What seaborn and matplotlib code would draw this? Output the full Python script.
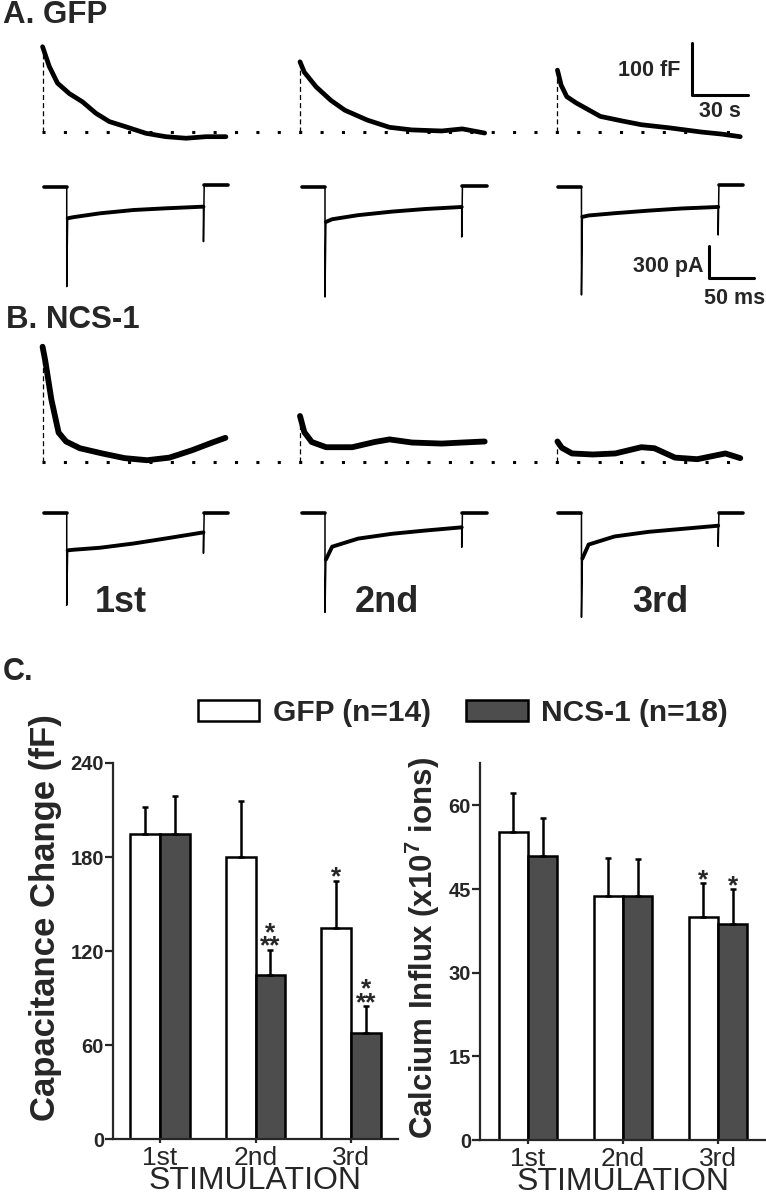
import matplotlib
matplotlib.use("Agg")
import matplotlib.pyplot as plt
from matplotlib.patches import Patch
import numpy as np
import pandas as pd
import seaborn as sns

# %% values

# capacitance responses (A = GFP, B = NCS-1): time from stimulus (s), change (fF)
gfp_cap1_t = [0, 3.6, 8.0, 14.3, 21.4, 28.6, 35.8, 44.7, 55.4, 66.1, 76.9, 87.6, 98.3]
gfp_cap1_ff = [164, 126, 94, 74, 58, 36, 20, 10, -2.5, -9, -12, -9, -9]
gfp_cap2_t = [0, 2.3, 8.6, 16.5, 24, 36, 48, 60, 76, 87, 99]
gfp_cap2_ff = [135, 115, 87, 61, 42, 23, 9, 4, 2, 6, -2]
gfp_cap3_t = [0, 2, 5, 10, 16, 23, 35, 45, 60, 77, 88, 98]
gfp_cap3_ff = [119, 90, 68, 56, 44, 30, 21, 14, 8, 0, -4, -9]
ncs_cap1_t = [0, 1.5, 4.7, 8.6, 12.6, 20, 32, 44, 56, 68, 80, 91, 98]
ncs_cap1_ff = [222, 194, 121, 57, 40, 27, 17, 8, 4, 9, 23, 38, 47]
ncs_cap2_t = [0, 2.3, 6.3, 14, 28, 40, 48, 60, 76, 87, 99]
ncs_cap2_ff = [89, 58, 39, 29, 29, 39, 44, 38, 36, 38, 40]
ncs_cap3_t = [0, 2.3, 7.8, 19, 31, 45, 52, 63, 75, 90, 98]
ncs_cap3_ff = [40, 28, 17, 15, 17, 29, 27, 9, 6, 17, 8]

# calcium currents during the pulse: time from pulse onset (ms), current (pA)
pulse_t = [1, 8, 37, 75, 112, 153]
gfp_cur1 = [-291, -280, -245, -214, -198, -183]
gfp_cur2 = [-325, -300, -262, -229, -205, -186]
gfp_cur3 = [-278, -265, -244, -220, -200, -186]
gfp_spike = [-926, -1022, -1003]
gfp_tail = [-508, -465, -446]
gfp_post = [15, 10, 15]
ncs_cur1 = [-344, -338, -320, -280, -232, -177]
ncs_cur2 = [-430, -310, -235, -190, -160, -130]
ncs_cur3 = [-420, -290, -215, -172, -145, -115]
ncs_spike = [-854, -920, -966]
ncs_tail = [-371, -316, -307]
ncs_post = [0, 0, 0]

# panel C: mean + SEM
stim_labels = ["1st", "2nd", "3rd"]
cap_gfp = [195, 180, 135]
cap_gfp_err = [17, 36, 30]
cap_ncs = [195, 105, 68]
cap_ncs_err = [24, 16, 17]
ca_gfp = [55.3, 43.8, 40.0]
ca_gfp_err = [7.0, 6.8, 6.1]
ca_ncs = [51.0, 43.7, 38.7]
ca_ncs_err = [6.7, 6.6, 6.3]
cap_gfp_sig = ["", "", "*"]
cap_ncs_sig = ["", "*\n**", "*\n**"]
ca_gfp_sig = ["", "", "*"]
ca_ncs_sig = ["", "", "*"]

# %% layout / style
W, H = 766, 1199
cap_offsets = [0, 138, 276]      # s between sweeps
cur_offsets = [0, 289, 576]      # ms between sweeps
pre_ms, post_ms = 26, 28
bar_colors = {"GFP": "white", "NCS-1": "#4d4d4d"}

sns.set_style("ticks")
plt.rcParams["font.family"] = ["Liberation Sans", "DejaVu Sans"]
plt.rcParams["font.weight"] = "bold"
plt.rcParams["axes.labelweight"] = "bold"
plt.rcParams["mathtext.fontset"] = "custom"
plt.rcParams["mathtext.rm"] = "Liberation Sans:bold"
plt.rcParams["mathtext.bf"] = "Liberation Sans:bold"
plt.rcParams["mathtext.default"] = "bf"
plt.rcParams["axes.linewidth"] = 1.6

fig = plt.figure(figsize=(W / 100, H / 100), dpi=100)


def px_axes(x0, y0, x1, y1):
    return fig.add_axes([x0 / W, 1 - y1 / H, (x1 - x0) / W, (y1 - y0) / H])


def draw_cap(ax, sweeps, lw):
    ax.plot([-0.5, 375], [0, 0], color="black", lw=2.2, ls=(0, (1, 6)))
    for off, (t, ff) in zip(cap_offsets, sweeps):
        t = np.asarray(t) + off
        ax.plot([t[0], t[0]], [0, ff[0]], color="black", lw=0.9, ls=(0, (4, 2.5)))
        ax.plot(t, ff, color="black", lw=lw, solid_joinstyle="round",
                solid_capstyle="round")
    ax.set_axis_off()


def draw_cur(ax, plateaus, spikes, tails, posts):
    for off, plat, sp, tl, po in zip(cur_offsets, plateaus, spikes, tails, posts):
        end = pulse_t[-1]
        t = [-pre_ms, 0, 0] + pulse_t + [end, end + 0.8, end + post_ms]
        v = [0, 0, sp] + plat + [tl, po, po]
        t = np.asarray(t) + off
        ax.plot(t, v, color="black", lw=1.1)
        ax.plot(t[:2], v[:2], color="black", lw=2.6)
        ax.plot(t[3:3 + len(pulse_t)], v[3:3 + len(pulse_t)], color="black", lw=2.8)
        ax.plot(t[-2:], v[-2:], color="black", lw=2.6)
    ax.set_axis_off()


# %% traces
ax_a_cap = px_axes(20, 35, 766, 150)
draw_cap(ax_a_cap, [(gfp_cap1_t, gfp_cap1_ff), (gfp_cap2_t, gfp_cap2_ff),
                    (gfp_cap3_t, gfp_cap3_ff)], lw=3.4)
ax_a_cap.set_xlim(-12.1, 387.8)
ax_a_cap.set_ylim(-34.6, 186.5)
ax_a_cap.plot([348, 348, 378], [171, 71, 71], color="black", lw=2.2, clip_on=False)
ax_a_cap.text(342, 119, "100 fF", ha="right", va="center", fontsize=15.5)
ax_a_cap.text(363, 39, "30 s", ha="center", va="center", fontsize=15.5)

ax_a_cur = px_axes(20, 175, 766, 300)
draw_cur(ax_a_cur, [gfp_cur1, gfp_cur2, gfp_cur3], gfp_spike, gfp_tail, gfp_post)
ax_a_cur.set_xlim(-52.3, 782.5)
ax_a_cur.set_ylim(-1050, 111)
ax_a_cur.plot([719, 719, 769], [-548, -848, -848], color="black", lw=2.2, clip_on=False)
ax_a_cur.text(713, -740, "300 pA", ha="right", va="center", fontsize=15.5)
ax_a_cur.text(747, -1040, "50 ms", ha="center", va="center", fontsize=15.5, clip_on=False)

ax_b_cap = px_axes(20, 340, 766, 480)
draw_cap(ax_b_cap, [(ncs_cap1_t, ncs_cap1_ff), (ncs_cap2_t, ncs_cap2_ff),
                    (ncs_cap3_t, ncs_cap3_ff)], lw=4.2)
ax_b_cap.set_xlim(-12.1, 387.8)
ax_b_cap.set_ylim(-34, 235)

ax_b_cur = px_axes(20, 503, 766, 630)
draw_cur(ax_b_cur, [ncs_cur1, ncs_cur2, ncs_cur3], ncs_spike, ncs_tail, ncs_post)
ax_b_cur.set_xlim(-52.3, 782.5)
ax_b_cur.set_ylim(-1084, 96)

fig.text(3 / W, 1 - 15 / H, "A. GFP", fontsize=22.5, va="center")
fig.text(6 / W, 1 - 320 / H, "B. NCS-1", fontsize=22.5, va="center")
fig.text(3 / W, 1 - 672 / H, "C.", fontsize=22, va="center")
for xc, lab in zip([121, 387, 660], stim_labels):
    fig.text(xc / W, 1 - 603 / H, lab, fontsize=26, ha="center", va="center")


# %% bar charts
def bar_panel(ax, gfp, gfp_err, ncs, ncs_err, gfp_sig, ncs_sig):
    df = pd.DataFrame({
        "stim": stim_labels * 2,
        "group": ["GFP"] * 3 + ["NCS-1"] * 3,
        "value": gfp + ncs,
    })
    sns.barplot(data=df, x="stim", y="value", hue="group", palette=bar_colors,
                width=0.62, edgecolor="black", linewidth=1.8, errorbar=None,
                saturation=1, legend=False, ax=ax)
    for cont, errs, sigs in zip(ax.containers, [gfp_err, ncs_err], [gfp_sig, ncs_sig]):
        for bar, e, sig in zip(cont, errs, sigs):
            xc = bar.get_x() + bar.get_width() / 2
            h = bar.get_height()
            ax.errorbar(xc, h, yerr=[[0], [e]], color="black", lw=1.8,
                        capsize=2.5, capthick=1.8, zorder=1)
            if sig:
                ax.annotate(sig, (xc, h + e), xytext=(0, -3),
                            textcoords="offset points", ha="center",
                            va="baseline", fontsize=19, linespacing=0.45)
    sns.despine(ax=ax)
    ax.tick_params(axis="y", length=5.5, width=1.6, pad=1, labelsize=14.5)
    ax.tick_params(axis="x", length=3, width=1.6, pad=2, labelsize=19)
    for lab in ax.get_xticklabels():
        lab.set_fontweight("normal")
    ax.set_xlabel("STIMULATION", fontsize=23, fontweight="normal", labelpad=-3)


ax_cap = px_axes(113, 763, 398, 1139.3)
bar_panel(ax_cap, cap_gfp, cap_gfp_err, cap_ncs, cap_ncs_err, cap_gfp_sig, cap_ncs_sig)
ax_cap.set_xlim(-0.49, 2.49)
ax_cap.set_ylim(0, 240)
ax_cap.set_yticks([0, 60, 120, 180, 240])
ax_cap.set_ylabel("Capacitance Change (fF)", fontsize=25, fontweight="bold")
ax_cap.yaxis.set_label_coords(-0.179, 0.59)

ax_ca = px_axes(480, 763, 766, 1140)
bar_panel(ax_ca, ca_gfp, ca_gfp_err, ca_ncs, ca_ncs_err, ca_gfp_sig, ca_ncs_sig)
ax_ca.set_xlim(-0.505, 2.505)
ax_ca.set_ylim(0, 67.6)
ax_ca.set_yticks([0, 15, 30, 45, 60])
ax_ca.set_ylabel(r"Calcium Influx (x10$^{7}$ ions)", fontsize=22.5, fontweight="bold")
ax_ca.yaxis.set_label_coords(-0.134, 0.51)

for ax in (ax_cap, ax_ca):
    for lab in ax.get_yticklabels():
        lab.set_fontweight("bold")

handles = [Patch(facecolor=bar_colors[g], edgecolor="black", lw=1.8) for g in bar_colors]
fig.legend(handles, ["GFP (n=14)", "NCS-1 (n=18)"], loc="center left",
           bbox_to_anchor=(198 / W, 1 - 713 / H), ncol=2, frameon=False,
           fontsize=21.5, handlelength=2.05, handleheight=0.73,
           handletextpad=0.45, columnspacing=1.2, borderpad=0, borderaxespad=0)

fig.savefig("out.png", dpi=100)
